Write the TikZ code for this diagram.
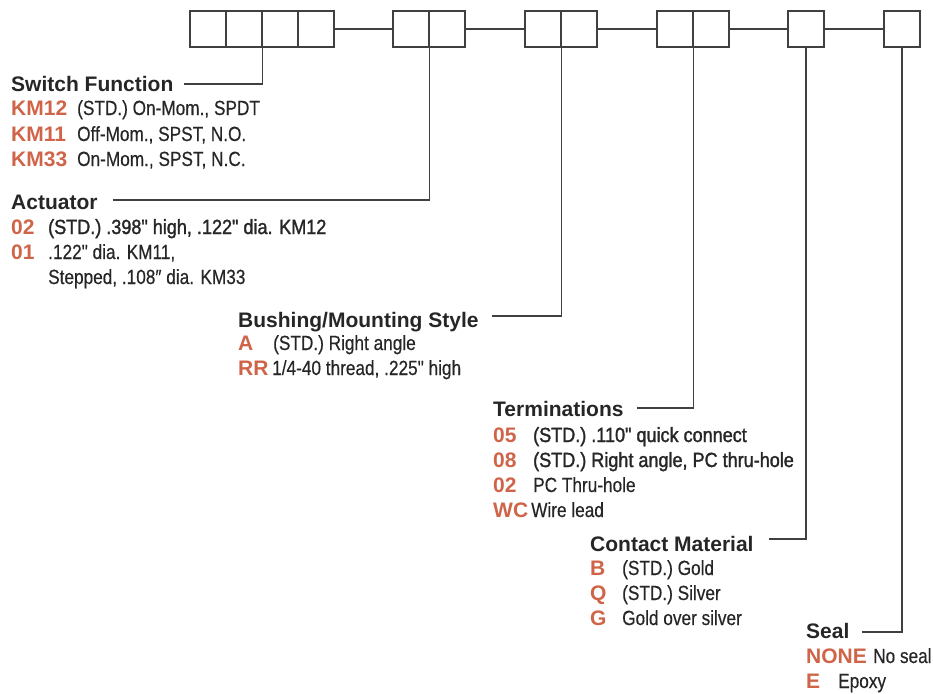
\documentclass[tikz,border=0pt]{standalone}
\usepackage{fontspec}
\setmainfont{Liberation Sans}
\newfontfamily\narrowfont[FakeStretch=0.84,FakeBold=0.4]{Liberation Sans}
\newfontfamily\narrowstdfont[FakeStretch=0.88,FakeBold=1.5]{Liberation Sans}
\definecolor{codered}{HTML}{CF6448}
\definecolor{ink}{HTML}{262626}
\definecolor{rule}{HTML}{404040}
\tikzset{
	cell/.style={draw=rule, line width=1.4pt, fill=white, minimum width=36pt, minimum height=36pt, inner sep=0pt},
	title/.style={anchor=base west, inner sep=0pt, text=ink, font=\fontsize{21}{24}\selectfont\bfseries},
	code/.style={anchor=base west, inner sep=0pt, text=codered, font=\fontsize{21}{24}\selectfont\bfseries},
	desc/.style={anchor=base west, inner sep=0pt, text=ink, font=\narrowfont\fontsize{20.5}{24}\selectfont},
	descstd/.style={desc, font=\narrowstdfont\fontsize{20.5}{24}\selectfont},
	leader/.style={draw=rule, line width=1.2pt}
}
\begin{document}
\begin{tikzpicture}[x=1pt,y=-1pt]
			\useasboundingbox (0,0) rectangle (933,693);
			\foreach\n/\x in {s1/208,s2/244,s3/280,s4/316,a1/411,a2/447,b1/543,b2/579,t1/675,t2/711,m1/806,e1/902} \node[cell] (\n) at (\x,29) {};
			\draw[leader] (s4.east) -- (a1.west);
			\draw[leader] (a2.east) -- (b1.west);
			\draw[leader] (b2.east) -- (t1.west);
			\draw[leader] (t2.east) -- (m1.west);
			\draw[leader] (m1.east) -- (e1.west);
			\node[title] (sf) at (11,91) {Switch Function};
			\node[code] (sf1) at (11,115) {KM12};
			\node[desc] (sf1d) at (77,115) {(STD.) On-Mom., SPDT};
			\node[code] (sf2) at (11,141) {KM11};
			\node[desc] (sf2d) at (77,141) {Off-Mom., SPST, N.O.};
			\node[code] (sf3) at (11,166) {KM33};
			\node[desc] (sf3d) at (77,166) {On-Mom., SPST, N.C.};
			\node[title] (act) at (11,209) {Actuator};
			\node[code] (act1) at (11,234) {02};
			\node[descstd] (act1d) at (48,234) {(STD.) .398" high, .122" dia. KM12};
			\node[code] (act2) at (11,259) {01};
			\node[desc] (act2d) at (48,259) {.122" dia. KM11,};
			\node[desc] (act3d) at (48,284) {Stepped, .108″ dia. KM33};
			\node[title] (bush) at (238,327) {Bushing/Mounting Style};
			\node[code] (bush1) at (238,350) {A};
			\node[desc] (bush1d) at (273,350) {(STD.) Right angle};
			\node[code] (bush2) at (238,375) {RR};
			\node[desc] (bush2d) at (272,375) {1/4-40 thread, .225" high};
			\node[title] (term) at (493,416) {Terminations};
			\node[code] (term1) at (493,442) {05};
			\node[descstd] (term1d) at (533,442) {(STD.) .110" quick connect};
			\node[code] (term2) at (493,467) {08};
			\node[descstd] (term2d) at (533,467) {(STD.) Right angle, PC thru-hole};
			\node[code] (term3) at (493,492) {02};
			\node[desc] (term3d) at (533,492) {PC Thru-hole};
			\node[code] (term4) at (493,517) {WC};
			\node[desc] (term4d) at (531,517) {Wire lead};
			\node[title] (cont) at (590,551) {Contact Material};
			\node[code] (cont1) at (590,575) {B};
			\node[desc] (cont1d) at (622,575) {(STD.) Gold};
			\node[code] (cont2) at (590,600) {Q};
			\node[desc] (cont2d) at (622,600) {(STD.) Silver};
			\node[code] (cont3) at (590,625) {G};
			\node[desc] (cont3d) at (622,625) {Gold over silver};
			\node[title] (seal) at (806,638) {Seal};
			\node[code] (seal1) at (806,663) {NONE};
			\node[desc] (seal1d) at (873,663) {No seal};
			\node[code] (seal2) at (806,688) {E};
			\node[desc] (seal2d) at (838,688) {Epoxy};
			\draw[leader] ([xshift=10pt,yshift=7pt]sf.base east) -| (s2.south east);
			\draw[leader] ([xshift=15pt,yshift=9pt]act.base east) -| (a1.south east);
			\draw[leader] ([xshift=13pt,yshift=11pt]bush.base east) -| (b1.south east);
			\draw[leader] ([xshift=13pt,yshift=8pt]term.base east) -| (t1.south east);
			\draw[leader] ([xshift=15pt,yshift=12pt]cont.base east) -| (m1.south);
			\draw[leader] ([xshift=12pt,yshift=6pt]seal.base east) -| (e1.south);
		\end{tikzpicture}
\end{document}
